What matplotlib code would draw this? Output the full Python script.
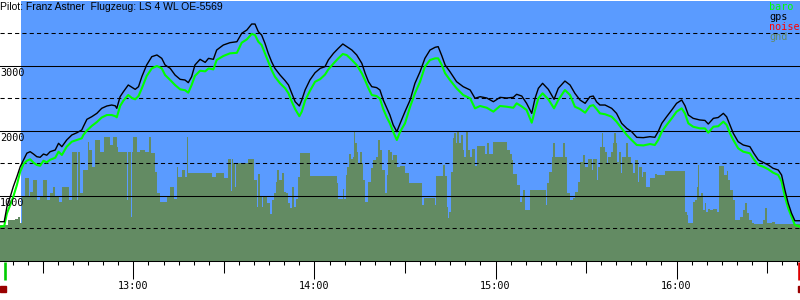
import matplotlib
matplotlib.use("Agg")
import matplotlib.pyplot as plt
from matplotlib.ticker import MultipleLocator, FixedLocator, FuncFormatter, NullFormatter

# ---------------- data (time in minutes after 12:00, altitude in m) ----------------
fix_t = [15.8, 17.2, 18.1, 19.2, 20.2, 21.4, 22.5, 23.6, 24.7, 25.8, 26.9, 28.0, 29.1, 30.2,
         31.3, 32.4, 34.1, 35.2, 36.3, 37.9, 39.6, 41.3, 42.9, 43.4, 44.6, 46.2, 47.9, 49.5,
         51.2, 52.8, 54.0, 54.5, 55.6, 56.7, 58.3, 59.5, 60.6, 61.7, 62.8, 64.4, 66.1, 67.8,
         69.4, 70.5, 72.2, 73.8, 75.5, 77.1, 78.2, 79.3, 80.4, 82.1, 83.8, 84.9, 86.5, 87.6,
         89.8, 92.0, 94.3, 95.9, 97.6, 99.2, 100.3, 101.4, 102.5, 103.6, 104.7, 105.8, 106.9,
         108.6, 110.3, 111.4, 112.5, 113.6, 115.0, 115.8, 116.9, 118.5, 120.2, 121.9, 123.5,
         124.6, 126.3, 127.9, 129.4, 130.7, 132.4, 134.0, 135.7, 136.8, 137.9, 139.0, 140.6,
         141.7, 142.8, 144.0, 145.0, 146.1, 147.3, 148.4, 150.0, 151.7, 153.3, 155.0, 156.6,
         158.3, 160.0, 161.0, 162.2, 163.3, 164.9, 167.1, 169.3, 171.6, 173.2, 174.9, 177.1,
         179.3, 181.5, 183.7, 185.9, 187.0, 188.7, 190.3, 192.0, 193.1, 194.2, 195.6, 197.5,
         199.4, 200.8, 203.0, 204.7, 206.3, 208.0, 209.7, 211.3, 212.4, 213.5, 214.6, 216.3,
         218.5, 220.1, 221.8, 223.5, 225.1, 226.8, 229.0, 231.2, 232.8, 233.9, 235.1, 236.7,
         238.4, 240.0, 241.7, 242.8, 243.9, 245.5, 247.7, 249.4, 250.5, 252.2, 253.8, 255.5,
         256.6, 257.7, 258.8, 260.4, 262.1, 264.3, 265.6, 267.1, 268.7, 270.4, 272.0, 273.7,
         274.8, 275.9, 277.0, 278.1, 279.2, 280.9]

gps_alt = [597, 597, 828, 981, 1135, 1289, 1443, 1546, 1651, 1674, 1638, 1597, 1588, 1638,
           1620, 1674, 1700, 1803, 1751, 1854, 1931, 1966, 2008, 2058, 2172, 2212, 2264, 2341,
           2377, 2392, 2380, 2341, 2520, 2597, 2700, 2664, 2633, 2674, 2828, 3008, 3136, 3162,
           3110, 3008, 2956, 2854, 2787, 2777, 2736, 2828, 3008, 3095, 3048, 3110, 3095, 3238,
           3315, 3351, 3366, 3495, 3546, 3638, 3638, 3520, 3469, 3341, 3187, 3058, 2956,
           2854, 2766, 2700, 2572, 2443, 2377, 2469, 2623, 2777, 2889, 2956, 2982,
           3085, 3187, 3264, 3331, 3290, 3238, 3162, 3034, 2880, 2751, 2674, 2660,
           2623, 2469, 2341, 2238, 2085, 1982, 2110, 2290, 2469, 2726, 2905, 3110,
           3238, 3280, 3290, 3150, 3008, 2905, 2751, 2674, 2623, 2495, 2520, 2500,
           2443, 2510, 2500, 2510, 2557, 2530, 2418, 2264, 2495, 2649, 2726, 2633,
           2480, 2649, 2761, 2700, 2572, 2469, 2418, 2520, 2530, 2440, 2392, 2392,
           2341, 2264, 2110, 2033, 1982, 1895, 1890, 1905, 1895, 1982, 2110, 2212,
           2315, 2418, 2469, 2380, 2238, 2187, 2162, 2155, 2100, 2187, 2200, 2264,
           2210, 2085, 1956, 1828, 1777, 1751, 1649, 1546, 1510, 1469, 1418, 1392,
           1315, 1085, 880, 726, 612, 612]

baro_alt = [520, 530, 726, 854, 981, 1162, 1366, 1485, 1535, 1557, 1505, 1470, 1458, 1535,
            1510, 1550, 1580, 1674, 1623, 1751, 1828, 1854, 1880, 1930, 2000, 2070, 2130, 2200,
            2238, 2238, 2220, 2203, 2377, 2460, 2546, 2500, 2480, 2530, 2649, 2838, 2956, 2992,
            2956, 2854, 2777, 2700, 2633, 2620, 2582, 2700, 2840, 2920, 2910, 2955, 2940, 3085,
            3146, 3187, 3195, 3351, 3402, 3485, 3470, 3366, 3315, 3187, 3058, 2931, 2828,
            2726, 2649, 2572, 2443, 2330, 2220, 2290, 2460, 2610, 2750, 2790, 2860,
            2940, 3030, 3110, 3177, 3160, 3085, 3008, 2880, 2770, 2650, 2546, 2530,
            2490, 2330, 2200, 2110, 1980, 1854, 1982, 2110, 2366, 2572, 2751, 2982,
            3085, 3110, 3110, 3008, 2880, 2777, 2649, 2546, 2495, 2341, 2377, 2350,
            2290, 2377, 2366, 2350, 2418, 2370, 2315, 2120, 2315, 2495, 2572, 2480,
            2341, 2469, 2623, 2546, 2366, 2330, 2274, 2377, 2390, 2330, 2264, 2250,
            2212, 2136, 2033, 1931, 1854, 1777, 1770, 1792, 1777, 1854, 1982, 2085,
            2187, 2290, 2341, 2260, 2110, 2058, 2033, 2033, 1966, 2058, 2065, 2136,
            2085, 1956, 1854, 1726, 1674, 1649, 1557, 1469, 1443, 1403, 1351, 1315,
            1213, 981, 803, 674, 546, 520]

gnd_t = [15.8, 18.6, 20.8, 21.9, 22.5, 23.0, 24.1, 25.5, 25.8, 26.9, 28.0, 29.1, 30.2, 31.3,
         32.4, 33.5, 34.1, 35.2, 36.3, 38.5, 39.6, 41.3, 41.8, 42.3, 43.4, 44.8, 45.4, 46.2,
         47.3, 49.0, 50.1, 52.3, 53.4, 54.5, 55.0, 57.8, 58.3, 59.1, 59.5, 60.0, 61.3, 62.2,
         63.9, 65.2, 65.7, 67.2, 67.8, 68.8, 71.1, 72.2, 73.3, 74.4, 74.9, 76.0, 77.1, 77.7,
         78.2, 86.0, 87.4, 90.0, 91.5, 92.3, 92.7, 93.1, 93.7, 94.0, 98.1, 100.0, 100.9,
         101.4, 102.0, 102.5, 103.1, 104.2, 105.3, 105.8, 106.6, 107.3, 107.7, 108.4, 109.2,
         109.9, 110.6, 111.4, 111.9, 112.5, 113.2, 113.9, 114.7, 115.2, 118.5, 127.4, 127.9,
         129.4, 129.8, 130.5, 130.9, 131.6, 132.0, 132.7, 133.1, 133.6, 134.0, 134.5, 135.1,
         135.7, 136.2, 136.8, 137.9, 138.6, 139.3, 140.4, 141.2, 141.7, 142.3, 143.4, 144.0,
         144.5, 145.0, 145.6, 146.1, 147.3, 148.4, 150.0, 151.4, 155.5, 156.3, 160.0, 160.3,
         162.5, 163.3, 163.8, 164.4, 164.7, 165.3, 165.8, 166.3, 166.9, 167.3, 168.0, 168.5,
         169.1, 169.6, 170.2, 171.0, 171.6, 172.1, 173.2, 174.0, 176.5, 177.3, 178.0, 179.3,
         183.9, 184.8, 185.4, 185.9, 187.0, 188.1, 188.7, 189.2, 189.8, 191.4, 196.7, 197.2,
         197.8, 198.6, 199.0, 199.7, 202.5, 203.0, 203.6, 204.7, 205.8, 206.3, 207.4, 208.0,
         208.9, 209.7, 210.8, 211.9, 212.4, 213.5, 214.1, 214.6, 215.2, 215.7, 216.3, 216.8,
         217.4, 218.2, 218.8, 219.3, 219.9, 220.4, 221.0, 221.5, 221.9, 223.2, 224.0, 224.8,
         225.7, 226.2, 227.3, 227.6, 228.4, 229.0, 229.9, 231.2, 232.8, 233.6, 236.2, 242.8,
         243.3, 243.9, 245.5, 246.1, 246.7, 247.2, 247.5, 248.0, 248.6, 249.4, 249.9, 250.5,
         251.1, 252.2, 253.3, 254.1, 255.7, 256.6, 257.1, 257.7, 258.6, 259.3, 261.0, 261.9,
         262.7, 263.2, 264.1, 264.9, 265.6, 268.5, 269.3, 269.8, 271.5, 272.6]

gnd_alt = [546, 623, 640, 674, 572, 981, 1269, 981, 1059, 1238, 931, 981, 1238, 931,
           1033, 1135, 981, 905, 1135, 931, 1674, 931, 1674, 1033, 1392, 1828, 1700, 1443,
           1854, 1674, 1905, 1777, 1905, 1751, 1674, 931, 1674, 674, 1674, 1905, 1674, 1700,
           1674, 1905, 1650, 1366, 1033, 905, 981, 1135, 950, 1443, 1289, 1392, 1289, 1905,
           1341, 1289, 1341, 1264, 1557, 1074, 1557, 1495, 1135, 1495, 1557, 1238, 828,
           1336, 981, 828, 981, 880, 715, 931, 1033, 1213, 1392, 1238, 1340,
           1059, 1033, 880, 803, 1135, 828, 950, 1289, 1659, 1305, 1187, 946,
           1100, 950, 1320, 1443, 1638, 1557, 1600, 1982, 1803, 1674, 1495, 1674,
           1495, 1238, 905, 1213, 1418, 1546, 1600, 1854, 1700, 1392, 1033, 1315,
           1700, 1674, 1546, 1623, 1443, 1458, 1341, 1187, 854, 957, 854, 1300,
           1469, 1300, 828, 649, 751, 1366, 1880, 1956, 1803, 1982, 1803, 1930,
           1700, 1597, 1982, 1700, 1597, 1710, 1454, 1762, 1638, 1803, 1638, 1818,
           1700, 1638, 1546, 1331, 1162, 905, 981, 1085, 777, 1085, 854, 1187,
           1366, 1597, 1803, 1588, 1803, 1588, 1033, 931, 957, 1059, 1213, 1520,
           1623, 1443, 1557, 1392, 1557, 1238, 1443, 1751, 1956, 1751, 1674, 1495,
           1597, 1674, 1803, 1956, 1803, 1520, 1674, 1341, 1597, 1803, 1597, 1495,
           1341, 1546, 1213, 1443, 1289, 1366, 1135, 1264, 1331, 1315, 1377, 751,
           700, 572, 905, 930, 1135, 1469, 981, 1033, 777, 890, 750, 800,
           777, 800, 750, 1454, 1315, 1380, 1238, 1085, 931, 623, 674, 777,
           890, 726, 623, 580, 562, 623, 803, 580, 600, 562]

T_START, T_END = 15.8, 280.9       # shown time range (min after 12:00)
flight_start = 22.8                # start of flight data (blue background)
takeoff_t, landing_t = 17.6, 280.5
log_start_t, log_end_t = 16.8, 281.2
solid_levels = [1000, 2000, 3000]
dashed_levels = [500, 1500, 2500, 3500]
hour_ticks = [60, 120, 180, 240]
half_hour_ticks = [30, 90, 150, 210, 270]
title = "Pilot: Franz Astner  Flugzeug: LS 4 WL OE-5569"
legend_names = ["baro", "gps", "noise", "gnd"]

BLUE = "#5a9bff"
GND = "#638b63"
legend_colors = ["#00ff00", "#000000", "#ff0000", GND]

plt.rcParams["font.family"] = ["DejaVu Sans Mono"]

fig = plt.figure(figsize=(8, 3), dpi=100)
fig.patch.set_facecolor("white")
ax = fig.add_axes([0, 39.5 / 300, 1, 260 / 300])
ax.set_facecolor("white")
ax.set_xlim(T_START, T_END)
ax.set_ylim(0, 4000)

ax.axvspan(flight_start, T_END, color=BLUE, lw=0, zorder=0)
ax.fill_between(gnd_t + [T_END], gnd_alt + [gnd_alt[-1]], 0, step="post",
                color=GND, lw=0, zorder=1)
for lv in solid_levels:
    ax.axhline(lv, color="black", lw=0.75, zorder=2)
for lv in dashed_levels:
    ax.axhline(lv, color="black", lw=0.75, ls=(0, (4, 3)), zorder=2)

ax.plot(fix_t, baro_alt, color="#00ff00", lw=1.5, zorder=3)
ax.plot(fix_t, gps_alt, color="black", lw=1.0, zorder=4)

for lv in solid_levels:
    ax.annotate(str(lv), xy=(0, lv), xycoords=("axes fraction", "data"),
                xytext=(0, -2), textcoords="offset points", va="top", ha="left",
                fontsize=7.3, color="black", zorder=5)

for s in ["top", "left", "right"]:
    ax.spines[s].set_visible(False)
ax.spines["bottom"].set_color("black")
ax.spines["bottom"].set_linewidth(0.75)
ax.set_yticks([])

ax.xaxis.set_major_locator(FixedLocator(hour_ticks))
ax.xaxis.set_major_formatter(FuncFormatter(lambda m, p: f"{int(m // 60) + 12}:{int(m % 60):02d}"))
ax.xaxis.set_minor_locator(MultipleLocator(5))
ax.tick_params(axis="x", which="major", length=13, width=0.75, pad=2, labelsize=7.3)
ax.tick_params(axis="x", which="minor", length=3.2, width=0.75)

sec = ax.secondary_xaxis("bottom")
sec.xaxis.set_major_locator(FixedLocator(half_hour_ticks))
sec.xaxis.set_major_formatter(NullFormatter())
sec.xaxis.set_minor_locator(FixedLocator([]))
sec.tick_params(axis="x", which="major", length=8.6, width=0.75)
sec.spines["bottom"].set_visible(False)

tr = ax.get_xaxis_transform()
ax.plot([takeoff_t, takeoff_t], [-0.004, -0.075], color="#00cc00", lw=1.9,
        transform=tr, clip_on=False, solid_capstyle="butt")
ax.plot([landing_t, landing_t], [-0.004, -0.075], color="#dd0000", lw=1.9,
        transform=tr, clip_on=False, solid_capstyle="butt")
ax.plot([log_start_t, log_end_t], [-0.108, -0.108], ls="none", marker="s",
        markersize=4.5, color="#990000", transform=tr, clip_on=False)

fig.text(0.0, 1 - 1.5 / 300, title, va="top", ha="left", fontsize=7.5,
         family=["Liberation Sans"], color="black")
for i, (name, col) in enumerate(zip(legend_names, legend_colors)):
    fig.text(769 / 800, 1 - (2 + 10 * i) / 300, name, va="top", ha="left",
             fontsize=7.3, color=col)

fig.savefig("out.png", dpi=100)
